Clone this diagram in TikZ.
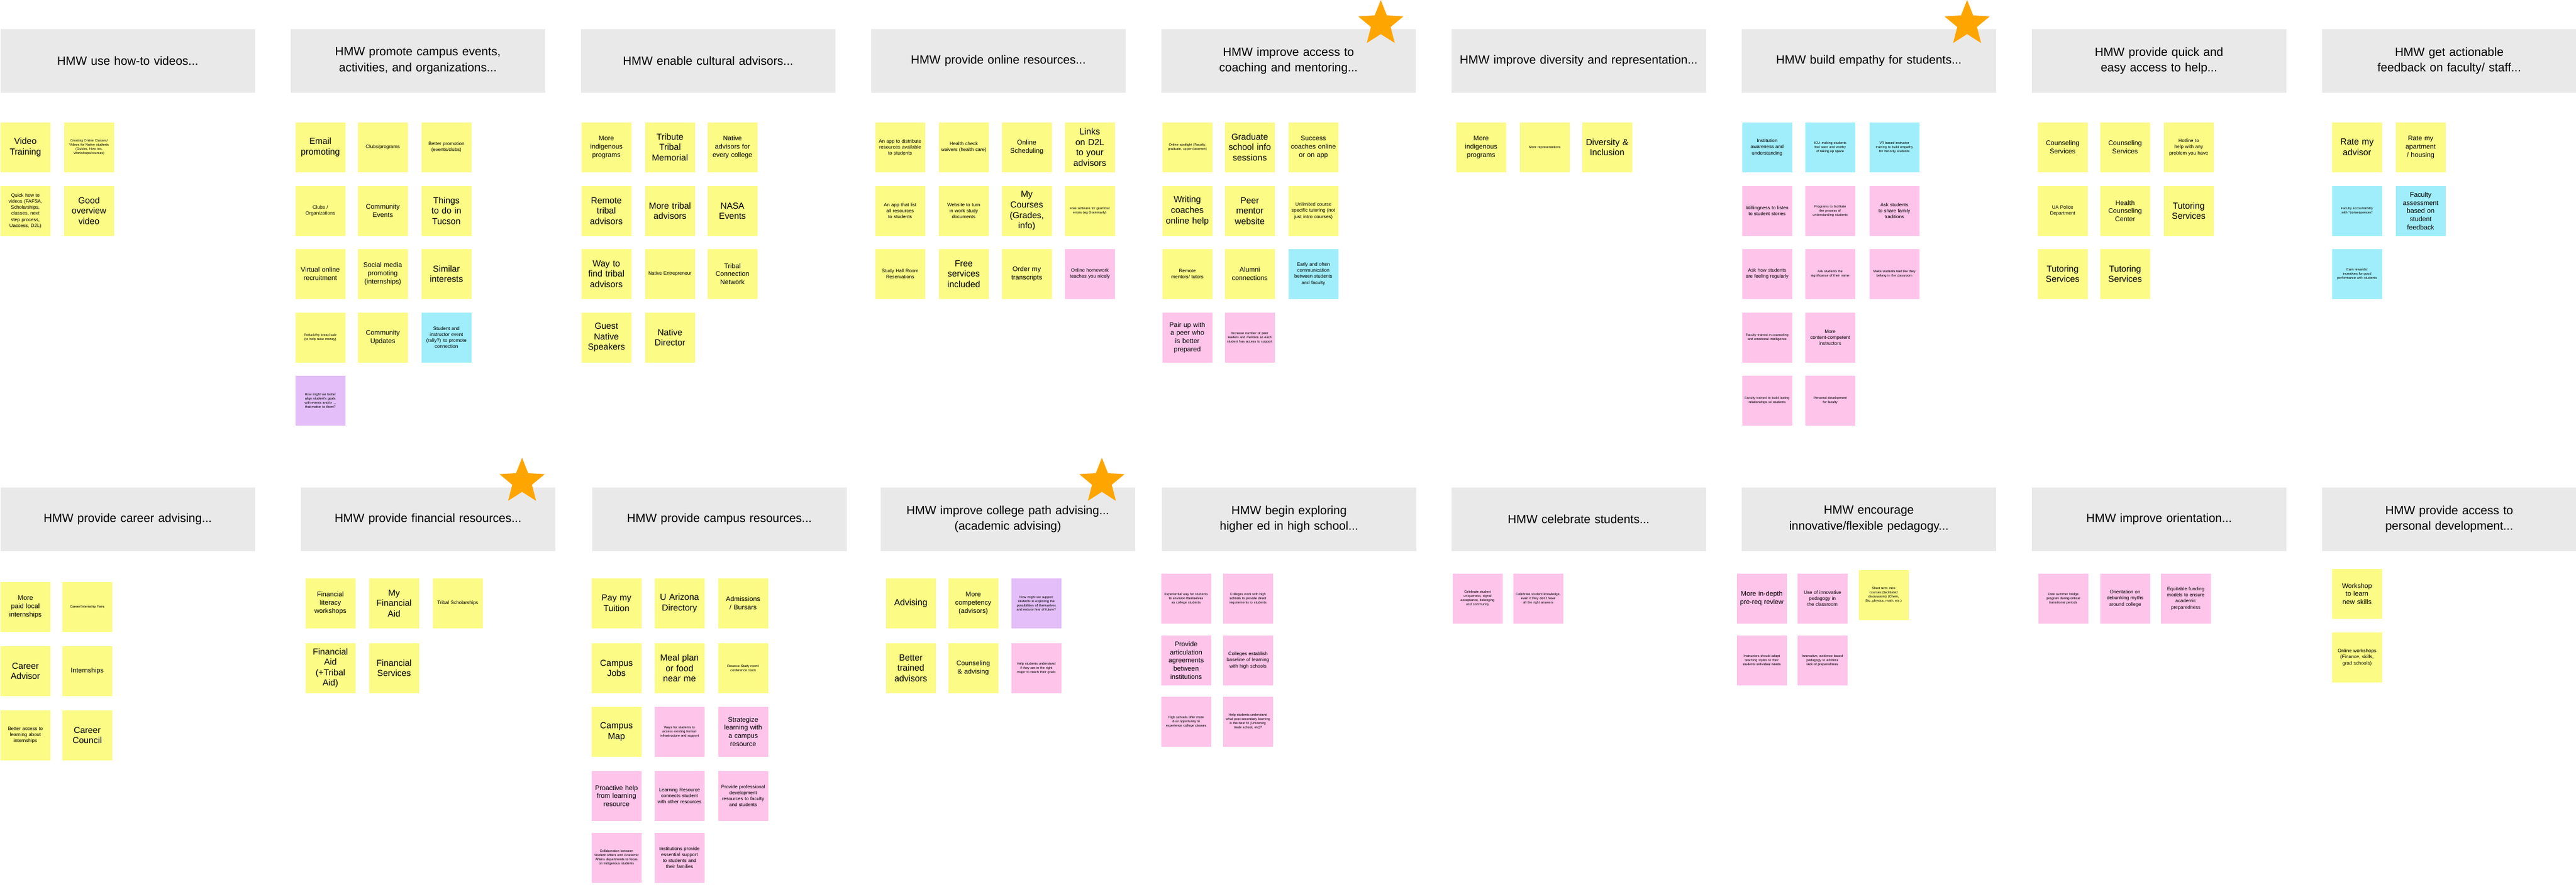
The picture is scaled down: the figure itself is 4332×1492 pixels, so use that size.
\documentclass[tikz,border=0pt]{standalone}
\usepackage{fontspec}
\setmainfont{Liberation Sans}
\usetikzlibrary{shapes.geometric}

\definecolor{hmwgray}{HTML}{E9E9E9}
\definecolor{yel}{HTML}{FBFB86}
\definecolor{cya}{HTML}{A0EEFB}
\definecolor{pnk}{HTML}{FEC4EA}
\definecolor{prp}{HTML}{E3BEF8}
\definecolor{starorange}{HTML}{FFA500}

\begin{document}
\hyphenpenalty=10000 \exhyphenpenalty=10000
\begin{tikzpicture}[x=0.01cm,y=-0.01cm,
  every node/.style={inner sep=0pt,align=center,anchor=north west},
  hmw/.style={fill=hmwgray,minimum width=4.28cm,minimum height=1.07cm,text width=4.1cm,font=\fontsize{5.7}{7.5}\selectfont},
  note/.style={minimum width=0.84cm,minimum height=0.84cm,text width=0.76cm},
  Y/.style={note,fill=yel}, C/.style={note,fill=cya}, P/.style={note,fill=pnk}, V/.style={note,fill=prp},
  B/.style={font=\fontsize{4.2}{5}\selectfont},
  M/.style={font=\fontsize{3.2}{3.9}\selectfont},
  S/.style={font=\fontsize{2.3}{2.9}\selectfont},
  T/.style={font=\fontsize{1.6}{2}\selectfont},
  goal/.style={star,star points=5,star point ratio=2.3,fill=starorange,minimum size=0.8cm,anchor=center}]
\useasboundingbox (0,0) rectangle (4332,1492);

% top row of questions
\node[hmw] (h1) at (0,48) {HMW use how-to videos...};
\node[hmw] (h2) at (488,48) {HMW promote campus events, activities, and organizations...};
\node[hmw] (h3) at (976,48) {HMW enable cultural advisors...};
\node[hmw] (h4) at (1464,48) {HMW provide online resources...};
\node[hmw] (h5) at (1952,48) {HMW improve access to coaching and mentoring...};
\node[hmw] (h6) at (2440,48) {HMW improve diversity and representation...};
\node[hmw] (h7) at (2928,48) {HMW build empathy for students...};
\node[hmw] (h8) at (3416,48) {HMW provide quick and easy access to help...};
\node[hmw] (h9) at (3904,48) {HMW get actionable feedback on faculty/ staff...};

% bottom row of questions
\node[hmw] (k1) at (0,819) {HMW provide career advising...};
\node[hmw] (k2) at (505,819) {HMW provide financial resources...};
\node[hmw] (k3) at (995,819) {HMW provide campus resources...};
\node[hmw] (k4) at (1480,819) {HMW improve college path advising...\\(academic advising)};
\node[hmw] (k5) at (1953,819) {HMW begin exploring higher ed in high school...};
\node[hmw] (k6) at (2440,819) {HMW celebrate students...};
\node[hmw] (k7) at (2928,819) {HMW encourage innovative/flexible pedagogy...};
\node[hmw] (k8) at (3416,819) {HMW improve orientation...};
\node[hmw] (k9) at (3904,819) {HMW provide access to personal development...};

% stars
\node[goal] (s1) at (2322,40) {};
\node[goal] (s2) at (3308,40) {};
\node[goal] (s3) at (878,810) {};
\node[goal] (s4) at (1853,810) {};

% how-to videos
\node[Y,B] (a1) at (0,205) {Video Training};
\node[Y,T] (a2) at (107,205) {Creating Online Classes/ Videos for Native students (Guides, How tos, Workshops/courses)};
\node[Y,S] (a3) at (0,312) {Quick how to videos (FAFSA, Scholarships, classes, next step process, Uaccess, D2L)};
\node[Y,B] (a4) at (107,312) {Good overview video};

% campus events
\node[Y,B] (b1) at (496,205) {Email promoting};
\node[Y,S] (b2) at (601,205) {Clubs/programs};
\node[Y,S] (b3) at (708,205) {Better promotion (events/clubs)};
\node[Y,S] (b4) at (496,312) {Clubs / Organizations};
\node[Y,M] (b5) at (601,312) {Community Events};
\node[Y,B] (b6) at (708,312) {Things to do in Tucson};
\node[Y,M] (b7) at (496,418) {Virtual online recruitment};
\node[Y,M] (b8) at (601,418) {Social media promoting (internships)};
\node[Y,B] (b9) at (708,418) {Similar interests};
\node[Y,T] (b10) at (496,525) {Potluck/fry bread sale (to help raise money)};
\node[Y,M] (b11) at (601,525) {Community Updates};
\node[C,S] (b12) at (708,525) {Student and instructor event (rally?) to promote connection};
\node[V,T] (b13) at (496,631) {How might we better align student's goals with events and/or ... that matter to them?};

% cultural advisors
\node[Y,M] (c1) at (977,205) {More indigenous programs};
\node[Y,B] (c2) at (1084,205) {Tribute Tribal Memorial};
\node[Y,M] (c3) at (1189,205) {Native advisors for every college};
\node[Y,B] (c4) at (977,312) {Remote tribal advisors};
\node[Y,B] (c5) at (1084,312) {More tribal advisors};
\node[Y,B] (c6) at (1189,312) {NASA Events};
\node[Y,B] (c7) at (977,418) {Way to find tribal advisors};
\node[Y,S] (c8) at (1084,418) {Native Entrepreneur};
\node[Y,M] (c9) at (1189,418) {Tribal Connection Network};
\node[Y,B] (c10) at (977,525) {Guest Native Speakers};
\node[Y,B] (c11) at (1084,525) {Native Director};

% online resources
\node[Y,S] (d1) at (1471,205) {An app to distribute resources available to students};
\node[Y,S] (d2) at (1578,205) {Health check waivers (health care)};
\node[Y,M] (d3) at (1684,205) {Online Scheduling};
\node[Y,B] (d4) at (1790,205) {Links on D2L to your advisors};
\node[Y,S] (d5) at (1471,312) {An app that list all resources to students};
\node[Y,S] (d6) at (1578,312) {Website to turn in work study documents};
\node[Y,B] (d7) at (1684,312) {My Courses (Grades, info)};
\node[Y,T] (d8) at (1790,312) {Free software for grammar errors (eg Grammarly)};
\node[Y,S] (d9) at (1471,418) {Study Hall Room Reservations};
\node[Y,B] (d10) at (1578,418) {Free services included};
\node[Y,M] (d11) at (1684,418) {Order my transcripts};
\node[P,S] (d12) at (1790,418) {Online homework teaches you nicely};

% coaching and mentoring
\node[Y,T] (e1) at (1954,205) {Online spotlight (Faculty, graduate, upperclassmen)};
\node[Y,B] (e2) at (2059,205) {Graduate school info sessions};
\node[Y,M] (e3) at (2166,205) {Success coaches online or on app};
\node[Y,B] (e4) at (1954,312) {Writing coaches online help};
\node[Y,B] (e5) at (2059,312) {Peer mentor website};
\node[Y,S] (e6) at (2166,312) {Unlimited course specific tutoring (not just intro courses)};
\node[Y,S] (e7) at (1954,418) {Remote mentors/ tutors};
\node[Y,M] (e8) at (2059,418) {Alumni connections};
\node[C,S] (e9) at (2166,418) {Early and often communication between students and faculty};
\node[P,M] (e10) at (1954,525) {Pair up with a peer who is better prepared};
\node[P,T] (e11) at (2059,525) {Increase number of peer leaders and mentors so each student has access to support};

% diversity
\node[Y,M] (f1) at (2448,205) {More indigenous programs};
\node[Y,T] (f2) at (2555,205) {More representations};
\node[Y,B] (f3) at (2660,205) {Diversity \& Inclusion};

% empathy
\node[C,S] (g1) at (2929,205) {Institution awareness and understanding};
\node[C,T] (g2) at (3035,205) {ICU: making students feel seen and worthy of taking up space};
\node[C,T] (g3) at (3143,205) {VR based instructor training to build empathy for minority students};
\node[P,S] (g4) at (2929,312) {Willingness to listen to student stories};
\node[P,T] (g5) at (3035,312) {Programs to facilitate the process of understanding students};
\node[P,S] (g6) at (3143,312) {Ask students to share family traditions};
\node[P,S] (g7) at (2929,418) {Ask how students are feeling regularly};
\node[P,T] (g8) at (3035,418) {Ask students the significance of their name};
\node[P,T] (g9) at (3143,418) {Make students feel like they belong in the classroom};
\node[P,T] (g10) at (2929,525) {Faculty trained in counseling and emotional intelligence};
\node[P,S] (g11) at (3035,525) {More content-competent instructors};
\node[P,T] (g12) at (2929,631) {Faculty trained to build lasting relationships w/ students};
\node[P,T] (g13) at (3035,631) {Personal development for faculty};

% access to help
\node[Y,M] (i1) at (3426,205) {Counseling Services};
\node[Y,M] (i2) at (3531,205) {Counseling Services};
\node[Y,S] (i3) at (3638,205) {Hotline to help with any problem you have};
\node[Y,S] (i4) at (3426,312) {UA Police Department};
\node[Y,M] (i5) at (3531,312) {Health Counseling Center};
\node[Y,B] (i6) at (3638,312) {Tutoring Services};
\node[Y,B] (i7) at (3426,418) {Tutoring Services};
\node[Y,B] (i8) at (3531,418) {Tutoring Services};

% feedback
\node[Y,B] (j1) at (3921,205) {Rate my advisor};
\node[Y,M] (j2) at (4028,205) {Rate my apartment / housing};
\node[C,T] (j3) at (3921,312) {Faculty accountability with ``consequences''};
\node[C,M] (j4) at (4028,312) {Faculty assessment based on student feedback};
\node[C,T] (j5) at (3921,418) {Earn rewards/ incentives for good performance with students};

% career advising
\node[Y,M] (l1) at (0,978) {More paid local internships};
\node[Y,T] (l2) at (104,978) {Career/Internship Fairs};
\node[Y,B] (l3) at (0,1086) {Career Advisor};
\node[Y,M] (l4) at (104,1086) {Internships};
\node[Y,S] (l5) at (0,1194) {Better access to learning about internships};
\node[Y,B] (l6) at (104,1194) {Career Council};

% financial resources
\node[Y,M] (m1) at (513,972) {Financial literacy workshops};
\node[Y,B] (m2) at (620,972) {My Financial Aid};
\node[Y,S] (m3) at (727,972) {Tribal Scholarships};
\node[Y,B] (m4) at (513,1081) {Financial Aid (+Tribal Aid)};
\node[Y,B] (m5) at (620,1081) {Financial Services};

% campus resources
\node[Y,B] (n1) at (994,972) {Pay my Tuition};
\node[Y,B] (n2) at (1100,972) {U Arizona Directory};
\node[Y,M] (n3) at (1207,972) {Admissions / Bursars};
\node[Y,B] (n4) at (994,1081) {Campus Jobs};
\node[Y,B] (n5) at (1100,1081) {Meal plan or food near me};
\node[Y,T] (n6) at (1207,1081) {Reserve Study room/ conference room};
\node[Y,B] (n7) at (994,1188) {Campus Map};
\node[P,T] (n8) at (1100,1188) {Ways for students to access existing human infrastructure and support};
\node[P,M] (n9) at (1207,1188) {Strategize learning with a campus resource};
\node[P,M] (n10) at (994,1296) {Proactive help from learning resource};
\node[P,S] (n11) at (1100,1296) {Learning Resource connects student with other resources};
\node[P,S] (n12) at (1207,1296) {Provide professional development resources to faculty and students};
\node[P,T] (n13) at (994,1400) {Collaboration between Student Affairs and Academic Affairs departments to focus on Indigenous students};
\node[P,S] (n14) at (1100,1400) {Institutions provide essential support to students and their families};

% college path advising
\node[Y,B] (o1) at (1489,972) {Advising};
\node[Y,M] (o2) at (1594,972) {More competency (advisors)};
\node[V,T] (o3) at (1700,972) {How might we support students in exploring the possibilities of themselves and reduce fear of future?};
\node[Y,B] (o4) at (1489,1081) {Better trained advisors};
\node[Y,M] (o5) at (1594,1081) {Counseling \& advising};
\node[P,T] (o6) at (1700,1081) {Help students understand if they are in the right major to reach their goals};

% high school
\node[P,T] (p1) at (1952,964) {Experiential way for students to envision themselves as college students};
\node[P,T] (p2) at (2056,964) {Colleges work with high schools to provide direct requirements to students};
\node[P,M] (p3) at (1952,1068) {Provide articulation agreements between institutions};
\node[P,S] (p4) at (2056,1068) {Colleges establish baseline of learning with high schools};
\node[P,T] (p5) at (1952,1171) {High schools offer more dual opportunity to experience college classes};
\node[P,T] (p6) at (2056,1171) {Help students understand what post secondary learning is the best fit (University, trade school, etc)?};

% celebrate
\node[P,T] (q1) at (2442,964) {Celebrate student uniqueness, signal acceptance, belonging and community};
\node[P,T] (q2) at (2544,964) {Celebrate student knowledge, even if they don't have all the right answers};

% pedagogy
\node[P,M] (r1) at (2920,964) {More in-depth pre-req review};
\node[P,S] (r2) at (3022,964) {Use of innovative pedagogy in the classroom};
\node[Y,T] (r3) at (3125,958) {Short term intro courses (facilitated discussions) (Chem, Bio, physics, math, etc.)};
\node[P,T] (r4) at (2920,1068) {Instructors should adapt teaching styles to their students individual needs};
\node[P,T] (r5) at (3022,1068) {Innovative, evidence based pedagogy to address lack of preparedness};

% orientation
\node[P,T] (u1) at (3427,964) {Free summer bridge program during critical transitional periods};
\node[P,S] (u2) at (3531,964) {Orientation on debunking myths around college};
\node[P,S] (u3) at (3633,964) {Equitable funding models to ensure academic preparedness};

% personal development
\node[Y,M] (w1) at (3921,956) {Workshop to learn new skills};
\node[Y,S] (w2) at (3921,1063) {Online workshops (Finance, skills, grad schools)};
\end{tikzpicture}
\end{document}
